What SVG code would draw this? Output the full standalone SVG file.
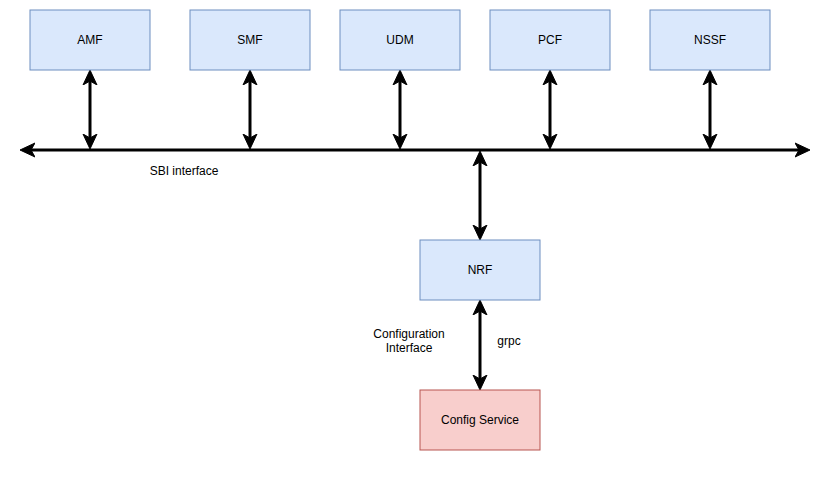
<svg xmlns="http://www.w3.org/2000/svg" width="830" height="491" viewBox="0 0 830 491">
<style>
.blue{fill:#dae8fc;stroke:#6c8ebf;stroke-width:1}
.red{fill:#f8cecc;stroke:#b85450;stroke-width:1}
.lbl{font-family:"Liberation Sans",Arial,sans-serif;font-size:12px;fill:#000;text-anchor:middle}
.conn{stroke:#000;stroke-width:3;fill:none;marker-start:url(#arr);marker-end:url(#arr)}
</style>
<defs>
<marker id="arr" markerUnits="userSpaceOnUse" viewBox="0 -8 16 16" markerWidth="16" markerHeight="16" refX="4" refY="0" orient="auto-start-reverse">
<path d="M0,-7 L15,0 L0,7 L4,0 Z" fill="#000" stroke="#000" stroke-width="1"/>
</marker>
</defs>
<rect width="830" height="491" fill="#fff"/>
<g id="connectors">
<line class="conn" x1="31" y1="150" x2="799" y2="150"/>
<line class="conn" x1="90" y1="81" x2="90" y2="138"/>
<line class="conn" x1="250" y1="81" x2="250" y2="138"/>
<line class="conn" x1="400" y1="81" x2="400" y2="138"/>
<line class="conn" x1="550" y1="81" x2="550" y2="138"/>
<line class="conn" x1="710" y1="81" x2="710" y2="138"/>
<line class="conn" x1="480" y1="162" x2="480" y2="229"/>
<line class="conn" x1="480" y1="311" x2="480" y2="379"/>
</g>
<g id="AMF"><rect class="blue" x="30" y="10" width="120" height="60"/><text class="lbl" x="90" y="44">AMF</text></g>
<g id="SMF"><rect class="blue" x="190" y="10" width="120" height="60"/><text class="lbl" x="250" y="44">SMF</text></g>
<g id="UDM"><rect class="blue" x="340" y="10" width="120" height="60"/><text class="lbl" x="400" y="44">UDM</text></g>
<g id="PCF"><rect class="blue" x="490" y="10" width="120" height="60"/><text class="lbl" x="550" y="44">PCF</text></g>
<g id="NSSF"><rect class="blue" x="650" y="10" width="120" height="60"/><text class="lbl" x="710" y="44">NSSF</text></g>
<g id="NRF"><rect class="blue" x="420" y="240" width="120" height="60"/><text class="lbl" x="480" y="274">NRF</text></g>
<g id="ConfigService"><rect class="red" x="420" y="390" width="120" height="60"/><text class="lbl" x="480" y="424">Config Service</text></g>
<g id="labels">
<text class="lbl" x="184" y="175">SBI interface</text>
<text class="lbl" x="409" y="338">Configuration</text>
<text class="lbl" x="409" y="352">Interface</text>
<text class="lbl" x="509" y="345">grpc</text>
</g>
</svg>
